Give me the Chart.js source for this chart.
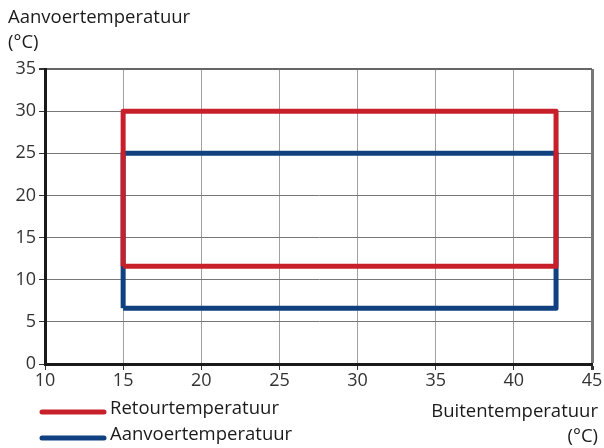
<!DOCTYPE html>
<html>
<head>
<meta charset="utf-8">
<script src="https://cdn.jsdelivr.net/npm/chart.js@4/dist/chart.umd.min.js"></script>
<style>
  html, body { margin: 0; padding: 0; background: #fff; }
  #wrap { width: 604px; height: 448px; position: relative; }
</style>
</head>
<body>
<div id="wrap"><canvas id="myChart"></canvas></div>
<script>
// ranges
var xTicks = [10, 15, 20, 25, 30, 35, 40, 45]
var yTicks = [0, 5, 10, 15, 20, 25, 30, 35]
var seriesNames = ['Retourtemperatuur', 'Aanvoertemperatuur']
var retourX = [15, 15, 42.7, 42.7, 15]
var retourY = [11.6, 30, 30, 11.6, 11.6]
var aanvoerX = [15, 15, 42.7, 42.7, 15]
var aanvoerY = [6.6, 25, 25, 6.6, 6.6]
var colors = ['#c8202b', '#10407f']

var font = '"Open Sans", "Noto Sans", sans-serif'

function pts(xs, ys) {
    return xs.map(function(x, i) { return { x: x, y: ys[i] } })
}

// legend + axis titles drawn by hand
var extras = {
    id: 'extras',
    afterDraw: function(chart) {
        var ctx = chart.ctx
        ctx.save()
        ctx.font = '18.5px ' + font
        ctx.fillStyle = '#1a1a1a'
        ctx.textBaseline = 'middle'
        ctx.textAlign = 'left'
        ctx.fillText('Aanvoertemperatuur', 8, 18)
        ctx.fillText('(°C)', 8, 43)
        ctx.textAlign = 'right'
        ctx.fillText('Buitentemperatuur', 598, 412)
        ctx.fillText('(°C)', 598, 437)
        chart.data.datasets.forEach(function(ds, i) {
            var y = 412 + i * 26
            ctx.strokeStyle = ds.borderColor
            ctx.lineWidth = 5
            ctx.lineCap = 'round'
            ctx.beginPath()
            ctx.moveTo(42, y)
            ctx.lineTo(104, y)
            ctx.stroke()
            ctx.textAlign = 'left'
            ctx.fillText(ds.label, 110, y - 3)
        })
        ctx.restore()
    }
}

var ctx = document.getElementById('myChart').getContext('2d');
var myChart = new Chart(ctx, {
    type: 'scatter',
    data: {
        datasets: [{
            label: seriesNames[0],
            data: pts(retourX, retourY),
            showLine: true,
            borderColor: colors[0],
            borderWidth: 5,
            borderJoinStyle: 'round',
            pointRadius: 0,
            order: 0
        }, {
            label: seriesNames[1],
            data: pts(aanvoerX, aanvoerY),
            showLine: true,
            borderColor: colors[1],
            borderWidth: 5,
            borderJoinStyle: 'round',
            pointRadius: 0,
            order: 1
        }]
    },
    options: {
        responsive: true,
        maintainAspectRatio: false,
        animation: false,
        layout: { padding: { top: 69, right: 12, left: 0, bottom: 0 } },
        plugins: {
            legend: { display: false },
            tooltip: { enabled: false }
        },
        scales: {
            x: {
                type: 'linear',
                min: 10,
                max: 45,
                afterBuildTicks: function(axis) {
                    axis.ticks = xTicks.map(function(v) { return { value: v } })
                },
                afterFit: function(axis) { axis.height = 84 },
                ticks: {
                    color: '#333',
                    font: { family: font, size: 18 },
                    padding: 0,
                    maxRotation: 0
                },
                grid: {
                    color: function(c) { return c.tick && c.tick.value === 45 ? '#777' : '#a0a0a0' },
                    lineWidth: function(c) { return c.tick && c.tick.value === 45 ? 3 : 1 },
                    tickLength: 6,
                    tickColor: '#333'
                },
                border: { color: '#1a1a1a', width: 3 }
            },
            y: {
                type: 'linear',
                min: 0,
                max: 35,
                afterBuildTicks: function(axis) {
                    axis.ticks = yTicks.map(function(v) { return { value: v } })
                },
                afterFit: function(axis) { axis.width = 45 },
                ticks: {
                    color: '#333',
                    font: { family: font, size: 18 },
                    padding: 3
                },
                grid: {
                    color: function(c) { return c.tick && c.tick.value === 35 ? '#666' : '#777' },
                    lineWidth: function(c) { return c.tick && c.tick.value === 35 ? 2 : 1 },
                    tickLength: 6,
                    tickColor: '#333'
                },
                border: { color: '#1a1a1a', width: 3 }
            }
        }
    },
    plugins: [extras]
});
</script>
</body>
</html>
